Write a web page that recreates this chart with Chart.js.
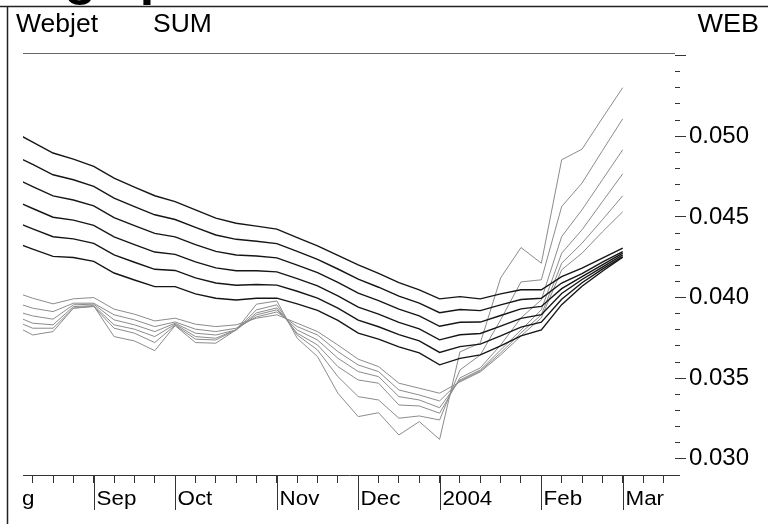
<!DOCTYPE html>
<html>
<head>
<meta charset="utf-8">
<script src="https://cdn.jsdelivr.net/npm/chart.js@4"></script>
<style>
  html, body { margin: 0; padding: 0; background: #fff; }
  .wrap { width: 768px; height: 524px; position: relative; }
</style>
</head>
<body>
<div class="wrap"><canvas class="myChart"></canvas></div>
<script>
// weekly observations (Fridays)
const weeks = ["2003-08-08","2003-08-15","2003-08-22","2003-08-29","2003-09-05","2003-09-12","2003-09-19","2003-09-26",
  "2003-10-03","2003-10-10","2003-10-17","2003-10-24","2003-10-31","2003-11-07","2003-11-14","2003-11-21","2003-11-28",
  "2003-12-05","2003-12-12","2003-12-19","2003-12-26","2004-01-02","2004-01-09","2004-01-16","2004-01-23","2004-01-30",
  "2004-02-06","2004-02-13","2004-02-20","2004-02-27","2004-03-05"];

// month labels and the week index where each month starts
const monthLabels = ["Aug", "Sep", "Oct", "Nov", "Dec", "2004", "Feb", "Mar"];
const monthWeek = [-1, 4, 8, 13, 17, 21, 26, 30];

const yTicks = [0.030, 0.035, 0.040, 0.045, 0.050];

// smoothed lines (black)
const trend1 = [0.05031,0.04964,0.04896,0.04858,0.04813,0.04741,0.04685,0.04631,0.04595,0.04544,0.04492,0.04461,0.04443,0.04424,0.04372,0.04321,0.04262,0.04203,0.04150,0.04093,0.04048,0.03992,0.04006,0.03992,0.04023,0.04048,0.04048,0.04130,0.04182,0.04244,0.04306];
const trend2 = [0.04887,0.04825,0.04761,0.04730,0.04689,0.04617,0.04564,0.04513,0.04484,0.04435,0.04388,0.04361,0.04349,0.04334,0.04286,0.04237,0.04177,0.04114,0.04064,0.04009,0.03966,0.03906,0.03926,0.03919,0.03955,0.03988,0.03996,0.04090,0.04149,0.04219,0.04285];
const trend3 = [0.04747,0.04688,0.04630,0.04605,0.04568,0.04496,0.04446,0.04398,0.04376,0.04328,0.04286,0.04264,0.04258,0.04246,0.04201,0.04154,0.04094,0.04027,0.03981,0.03928,0.03886,0.03822,0.03847,0.03848,0.03889,0.03930,0.03945,0.04055,0.04130,0.04202,0.04275];
const trend4 = [0.04606,0.04552,0.04498,0.04480,0.04448,0.04376,0.04328,0.04282,0.04268,0.04221,0.04184,0.04166,0.04166,0.04159,0.04117,0.04072,0.04011,0.03940,0.03897,0.03846,0.03806,0.03738,0.03769,0.03777,0.03823,0.03871,0.03894,0.04025,0.04112,0.04189,0.04264];
const trend5 = [0.04476,0.04426,0.04377,0.04364,0.04336,0.04264,0.04219,0.04175,0.04168,0.04122,0.04090,0.04076,0.04081,0.04077,0.04039,0.03996,0.03934,0.03860,0.03819,0.03770,0.03732,0.03660,0.03696,0.03711,0.03762,0.03817,0.03847,0.03990,0.04092,0.04176,0.04254];
const trend6 = [0.04346,0.04300,0.04255,0.04248,0.04224,0.04152,0.04109,0.04068,0.04068,0.04023,0.03996,0.03985,0.03996,0.03996,0.03961,0.03920,0.03858,0.03779,0.03742,0.03694,0.03657,0.03583,0.03623,0.03645,0.03700,0.03763,0.03800,0.03956,0.04070,0.04163,0.04250];

// weekly lines (grey)
const spread1 = [0.04039,0.03996,0.03961,0.03992,0.04000,0.03928,0.03897,0.03855,0.03872,0.03835,0.03820,0.03831,0.03872,0.03893,0.03841,0.03789,0.03706,0.03618,0.03572,0.03469,0.03438,0.03407,0.03477,0.03539,0.03644,0.03762,0.03874,0.04172,0.04275,0.04407,0.04532];
const spread2 = [0.03975,0.03934,0.03913,0.03965,0.03965,0.03893,0.03862,0.03820,0.03849,0.03804,0.03789,0.03810,0.03880,0.03911,0.03820,0.03768,0.03665,0.03582,0.03541,0.03427,0.03396,0.03359,0.03483,0.03545,0.03657,0.03781,0.03893,0.04213,0.04337,0.04482,0.04631];
const spread3 = [0.03922,0.03886,0.03866,0.03955,0.03959,0.03862,0.03831,0.03789,0.03841,0.03779,0.03768,0.03799,0.03893,0.03924,0.03799,0.03737,0.03624,0.03541,0.03510,0.03386,0.03365,0.03317,0.03489,0.03551,0.03675,0.03799,0.03924,0.04275,0.04420,0.04594,0.04767];
const spread4 = [0.03893,0.03841,0.03831,0.03944,0.03950,0.03831,0.03804,0.03758,0.03835,0.03758,0.03748,0.03800,0.03905,0.03936,0.03779,0.03706,0.03572,0.03489,0.03469,0.03334,0.03328,0.03283,0.03502,0.03564,0.03706,0.03874,0.03986,0.04378,0.04544,0.04730,0.04916];
const spread5 = [0.03862,0.03810,0.03810,0.03934,0.03944,0.03810,0.03779,0.03721,0.03829,0.03742,0.03737,0.03800,0.03924,0.03955,0.03768,0.03675,0.03510,0.03386,0.03365,0.03252,0.03266,0.03241,0.03551,0.03644,0.03862,0.04097,0.04110,0.04564,0.04710,0.04910,0.05108];
const spread6 = [0.03834,0.03768,0.03789,0.03934,0.03948,0.03758,0.03731,0.03671,0.03826,0.03721,0.03717,0.03800,0.03959,0.03979,0.03748,0.03634,0.03407,0.03262,0.03286,0.03148,0.03231,0.03121,0.03663,0.03719,0.04122,0.04310,0.04213,0.04854,0.04920,0.05112,0.05301];

const FONT = "'Liberation Sans', Arial, Helvetica, sans-serif";

const toPoints = (values) => values.map((v, i) => ({ x: i, y: v }));

const blackLine = (values) => ({
  data: toPoints(values),
  borderColor: "#151515",
  borderWidth: 1.4,
  pointRadius: 0,
  tension: 0
});
const greyLine = (values) => ({
  data: toPoints(values),
  borderColor: "#8c8c8c",
  borderWidth: 1,
  pointRadius: 0,
  tension: 0
});

// text a bit wider than the font, like the original
function wideText(ctx, text, x, y, sx, align) {
  ctx.save();
  ctx.translate(x, y);
  ctx.scale(sx, 1);
  ctx.textAlign = align || "left";
  ctx.fillText(text, 0, 0);
  ctx.restore();
}

// frame, header texts and month marks
const decorations = {
  id: "decorations",
  beforeDraw(chart) {
    const { ctx, chartArea: a, width, height } = chart;
    ctx.save();
    ctx.fillStyle = "#fff";
    ctx.fillRect(0, 0, width, height);

    ctx.fillStyle = "#000";
    ctx.font = "bold 52px " + FONT;
    ctx.textBaseline = "alphabetic";
    ctx.fillText("Avg spread", 0, -6);

    ctx.strokeStyle = "#222";
    ctx.lineWidth = 1.5;
    ctx.beginPath();
    ctx.moveTo(0, 6.5);
    ctx.lineTo(width, 6.5);
    ctx.moveTo(7.5, 6.5);
    ctx.lineTo(7.5, height);
    ctx.stroke();

    ctx.font = "25px " + FONT;
    wideText(ctx, "Webjet", 16, 32, 1.06);
    wideText(ctx, "SUM", 153, 32, 1.06);
    wideText(ctx, "WEB", 759, 32, 1.08, "right");

    ctx.strokeStyle = "#666";
    ctx.lineWidth = 1;
    ctx.beginPath();
    ctx.moveTo(a.left, Math.round(a.top) + 0.5);
    ctx.lineTo(a.right, Math.round(a.top) + 0.5);
    ctx.stroke();
    ctx.restore();
  },
  afterDraw(chart) {
    const { ctx, chartArea: a, width, height } = chart;
    const xs = chart.scales.x;
    ctx.save();
    ctx.beginPath();
    ctx.rect(a.left, a.bottom, width - a.left, height - a.bottom);
    ctx.clip();
    ctx.strokeStyle = "#333";
    ctx.lineWidth = 1;
    ctx.fillStyle = "#000";
    ctx.font = "20px " + FONT;
    ctx.textBaseline = "alphabetic";
    monthLabels.forEach((m, k) => {
      const x = Math.round(xs.getPixelForValue(monthWeek[k])) + 0.5;
      ctx.beginPath();
      ctx.moveTo(x, a.bottom);
      ctx.lineTo(x, 510);
      ctx.stroke();
      wideText(ctx, m, x + 2, 505, 1.12);
    });
    ctx.restore();
  }
};

const myChart = document.querySelector(".myChart");

new Chart(myChart, {
  type: "line",
  data: {
    datasets: [
      blackLine(trend1), blackLine(trend2), blackLine(trend3),
      blackLine(trend4), blackLine(trend5), blackLine(trend6),
      greyLine(spread1), greyLine(spread2), greyLine(spread3),
      greyLine(spread4), greyLine(spread5), greyLine(spread6)
    ]
  },
  options: {
    responsive: true,
    maintainAspectRatio: false,
    animation: false,
    layout: {
      padding: { left: 23, top: 53, right: 0, bottom: 0 }
    },
    plugins: {
      legend: { display: false },
      tooltip: { enabled: false }
    },
    scales: {
      x: {
        type: "linear",
        position: "bottom",
        min: 0.523,
        max: 32.57,
        afterFit(scale) { scale.height = 49; },
        ticks: { stepSize: 1, includeBounds: false, display: false },
        grid: { drawOnChartArea: false, tickLength: 8, color: "#333", lineWidth: 1 },
        border: { display: true, color: "#333", width: 1 }
      },
      yMinor: {
        type: "linear",
        position: "right",
        weight: 0,
        min: 0.029,
        max: 0.05516,
        afterFit(scale) { scale.width = 0; },
        ticks: { stepSize: 0.001, includeBounds: false, display: false },
        grid: { drawOnChartArea: false, tickLength: 5, color: "#333" },
        border: { display: false }
      },
      y: {
        type: "linear",
        position: "right",
        weight: 1,
        min: 0.029,
        max: 0.05516,
        afterFit(scale) { scale.width = 93; },
        ticks: {
          stepSize: 0.005,
          includeBounds: false,
          padding: 3,
          color: "#000",
          font: { family: FONT, size: 24 },
          callback: (v) => yTicks.some(t => Math.abs(t - v) < 1e-9) ? v.toFixed(3) : ""
        },
        grid: { drawOnChartArea: false, tickLength: 11, color: "#333" },
        border: { display: false }
      }
    }
  },
  plugins: [decorations]
});
</script>
</body>
</html>
